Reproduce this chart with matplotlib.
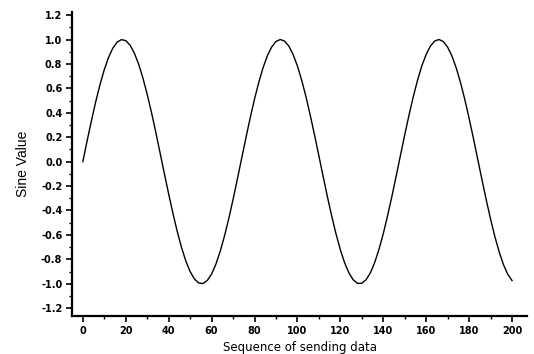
import matplotlib.pyplot as plt
import numpy as np

# samples, every 2nd point of the sending sequence
seq = np.arange(0, 201, 2)
sine_vals = [0.000, 0.170, 0.334, 0.490, 0.630, 0.753, 0.854, 0.930, 0.979, 0.999,
             0.991, 0.954, 0.889, 0.799, 0.685, 0.551, 0.402, 0.241, 0.072, -0.098,
             -0.265, -0.425, -0.572, -0.703, -0.814, -0.900, -0.961, -0.994, -0.998, -0.973,
             -0.920, -0.840, -0.735, -0.610, -0.467, -0.310, -0.144, 0.026, 0.195, 0.359,
             0.512, 0.650, 0.770, 0.867, 0.939, 0.984, 1.000, 0.987, 0.946, 0.877,
             0.783, 0.666, 0.530, 0.378, 0.216, 0.047, -0.123, -0.290, -0.448, -0.593,
             -0.722, -0.829, -0.911, -0.968, -0.997, -0.996, -0.967, -0.910, -0.826, -0.718,
             -0.590, -0.444, -0.286, -0.119, 0.051, 0.220, 0.382, 0.533, 0.669, 0.786,
             0.879, 0.947, 0.988, 1.000, 0.983, 0.937, 0.865, 0.767, 0.647, 0.508,
             0.354, 0.191, 0.021, -0.149, -0.314, -0.471, -0.614, -0.739, -0.843, -0.922,
             -0.974]

x_ticks = np.arange(0, 201, 20)
y_ticks = np.round(np.arange(-1.2, 1.21, 0.2), 1)

fig = plt.figure(figsize=(5.34, 3.54), dpi=100)
ax = fig.add_axes([0.135, 0.107, 0.852, 0.859])
ax.plot(seq, sine_vals, color='black', lw=1.0)

ax.set_xlim(-5, 207)
ax.set_ylim(-1.265, 1.225)
ax.set_xticks(x_ticks)
ax.set_xticks(np.arange(0, 201, 10), minor=True)
ax.set_yticks(y_ticks)
ax.set_yticks(np.arange(-1.2, 1.21, 0.1), minor=True)
# avoid "-0.0"
ax.set_yticklabels(['%.1f' % (v + 0.0) if abs(v) > 1e-9 else '0.0' for v in y_ticks])

for s in ['top', 'right']:
    ax.spines[s].set_visible(False)
for s in ['left', 'bottom']:
    ax.spines[s].set_linewidth(1.6)

ax.tick_params(which='major', length=4, width=1.2, labelsize=7, pad=3)
ax.tick_params(which='minor', length=2, width=1)
for lab in ax.get_xticklabels() + ax.get_yticklabels():
    lab.set_fontweight('bold')

ax.set_xlabel('Sequence of sending data', fontsize=8.5, family='DejaVu Sans', labelpad=4)
ax.set_ylabel('Sine Value', fontsize=10, family='Liberation Sans', labelpad=8)

fig.savefig('out.png', dpi=100)
